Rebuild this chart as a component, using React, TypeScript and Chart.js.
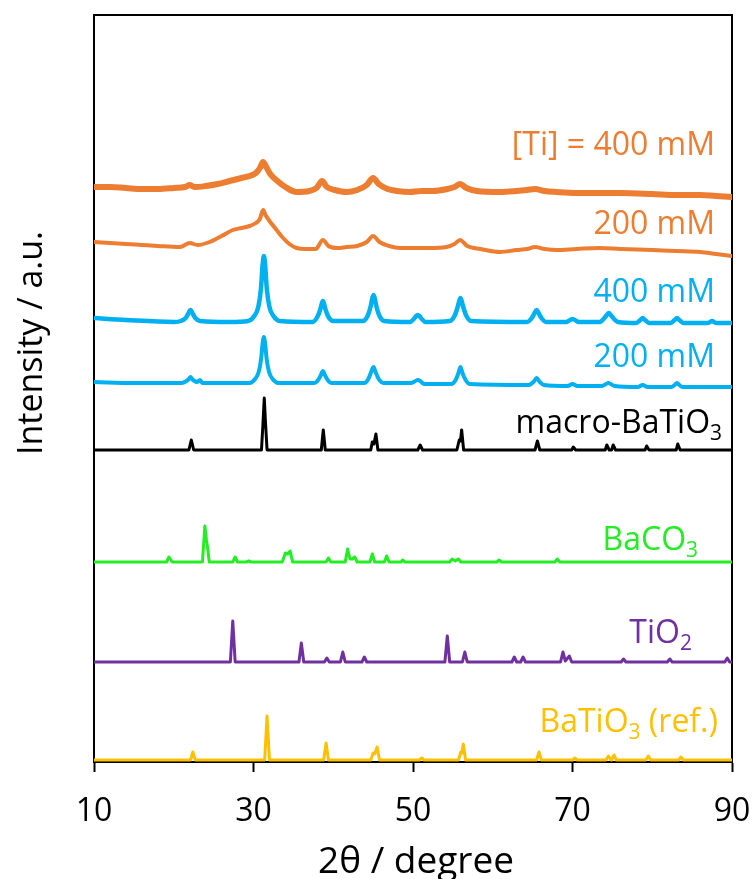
import { useEffect, useRef } from 'react';
import { Chart, registerables } from 'chart.js';

Chart.register(...registerables);

const FONT = '"Open Sans", "DejaVu Sans", sans-serif';

// 2θ axis
const xTicks = [10, 30, 50, 70, 90];
const xTitle = '2θ / degree';
const yTitle = 'Intensity / a.u.';

// series names ("_" marks the following character as a subscript)
const seriesNames = [
  '[Ti] = 400 mM',
  '200 mM',
  '400 mM',
  '200 mM',
  'macro-BaTiO_3',
  'BaCO_3',
  'TiO_2',
  'BaTiO_3 (ref.)',
];

// stacked XRD patterns: [2θ, intensity (offset, a.u.)]
const ti400: number[][] = [
  [10, 575], [12, 575], [14, 574], [16, 573], [18, 573], [20, 574], [21.4, 575], [22, 577], [22.6, 575],
  [24, 576], [25.5, 578], [27, 581], [28.5, 584], [29.5, 586], [30.3, 589], [30.8, 594], [31.2, 600],
  [31.6, 595], [32.1, 588], [33, 581], [34, 575], [35.4, 570], [37, 571], [37.9, 574], [38.6, 581],
  [39.2, 575], [40.2, 572], [41.7, 570], [43, 572], [44.2, 577], [45, 584], [45.7, 578], [46.8, 573],
  [48, 571], [49.6, 570], [51, 571], [52.5, 571], [54.3, 573], [55.2, 575], [55.9, 578], [56.7, 574],
  [58, 571], [60.9, 570], [63, 571], [64.3, 572], [65.3, 573], [66.5, 571], [68, 570], [70.5, 569],
  [73.4, 569], [76, 569], [80, 568], [83, 567], [86, 567], [88, 566], [90, 565],
];

const ti200: number[][] = [
  [10, 520], [12, 519], [14, 518], [16, 517], [18, 516], [20.8, 515], [22, 519], [23, 517], [24.5, 520],
  [26, 526], [27.4, 532], [28.5, 534], [29.5, 536], [30.3, 539], [30.8, 543], [31.2, 552], [31.5, 547],
  [32, 541], [32.8, 533], [33.6, 525], [34.5, 518], [35.4, 514], [36.5, 513], [37.8, 513], [38.7, 522],
  [39.4, 516], [40.5, 514], [41.7, 515], [43, 516], [44.2, 520], [45, 526], [45.8, 520], [47, 516],
  [48.4, 514], [50, 514], [52, 514], [54.2, 515], [55.2, 518], [55.9, 522], [56.8, 516], [58.5, 513],
  [60.9, 510], [63, 512], [64.3, 513], [65.3, 515], [66.5, 513], [68, 512], [70.5, 513], [73.4, 514],
  [76, 513], [80, 512], [83, 511], [86, 510], [88, 508], [90, 506],
];

const bto400: number[][] = [
  [10, 444], [14, 442], [20, 440],
  [20.9, 441], [21.5, 444], [21.8, 448], [22.1, 452], [22.4, 448], [22.7, 444], [23.3, 441],
  [27, 440],
  [29.3, 441], [30.1, 446], [30.6, 455], [30.93, 473], [31.15, 498], [31.3, 506], [31.45, 498],
  [31.67, 473], [32, 455], [32.5, 446], [33.3, 441],
  [37.4, 440], [38, 445], [38.35, 452], [38.55, 458], [38.7, 461], [38.85, 458], [39.05, 452], [39.4, 445], [40, 441],
  [43.7, 441], [44.3, 446], [44.7, 456], [44.9, 464], [45.05, 467], [45.2, 464], [45.4, 456], [45.8, 446], [46.4, 441],
  [49.6, 440], [50.1, 443], [50.4, 446], [50.6, 447], [50.8, 446], [51.1, 443], [51.6, 440],
  [54.6, 441], [55.2, 446], [55.6, 455], [55.8, 461], [55.95, 464], [56.1, 461], [56.3, 455], [56.7, 446], [57.3, 441],
  [64.3, 440], [64.9, 444], [65.25, 449], [65.5, 452], [65.75, 449], [66.1, 444], [66.7, 440],
  [69.2, 440], [69.7, 442], [70, 443], [70.3, 442], [70.8, 440],
  [73.4, 440], [74, 444], [74.3, 447], [74.55, 449], [74.8, 447], [75.1, 444], [75.7, 440],
  [78, 439], [78.5, 442], [78.8, 444], [79.1, 442], [79.6, 439],
  [82.3, 439], [82.8, 442], [83.1, 444], [83.4, 442], [83.9, 439],
  [87, 439], [87.5, 441], [88, 439], [90, 439],
];

const bto200: number[][] = [
  [10, 380], [15, 379],
  [21, 379], [21.6, 381], [21.9, 383], [22.1, 385], [22.3, 383], [22.6, 381], [22.9, 380], [23.3, 382], [23.6, 379],
  [29.5, 379], [30.2, 383], [30.65, 390], [30.95, 403], [31.15, 419], [31.3, 425], [31.45, 419], [31.65, 403],
  [31.95, 390], [32.4, 383], [33.1, 379],
  [37.6, 379], [38.1, 382], [38.45, 387], [38.7, 391], [38.95, 387], [39.3, 382], [39.8, 379],
  [43.9, 379], [44.4, 383], [44.75, 390], [45.05, 395], [45.3, 390], [45.7, 383], [46.3, 379],
  [49.8, 379], [50.3, 381], [50.6, 382], [50.9, 381], [51.4, 378],
  [54.8, 378], [55.35, 382], [55.7, 389], [55.95, 395], [56.2, 389], [56.6, 382], [57.1, 378],
  [64.5, 377], [65.1, 380], [65.5, 384], [65.9, 380], [66.4, 377],
  [69.4, 376], [70, 378], [70.6, 376],
  [73.7, 376], [74.2, 378], [74.5, 379], [74.8, 378], [75.3, 376],
  [78.2, 375], [78.8, 377], [79.4, 375],
  [82.4, 375], [82.8, 377], [83.1, 379], [83.4, 377], [83.8, 375],
  [90, 375],
];

const macroBto: number[][] = [
  [10, 312], [21.9, 312], [22.2, 322], [22.5, 312], [31, 312], [31.2, 340], [31.35, 364], [31.5, 340],
  [31.7, 312], [38.5, 312], [38.75, 332], [39, 312], [44.7, 312], [44.9, 320], [45.1, 318], [45.35, 328],
  [45.6, 312], [50.6, 312], [50.9, 317], [51.2, 312], [55.5, 312], [55.8, 322], [55.95, 321], [56.1, 332],
  [56.35, 312], [65.3, 312], [65.6, 321], [65.9, 312], [69.9, 312], [70.1, 315], [70.4, 312], [74.1, 312],
  [74.3, 317], [74.6, 312], [74.9, 312], [75.1, 317], [75.4, 312], [79.1, 312], [79.3, 316], [79.6, 312],
  [83, 312], [83.2, 318], [83.5, 312], [90, 312],
];

const baco3: number[][] = [
  [10, 200], [19.1, 200], [19.4, 205], [19.8, 200], [23.6, 200], [23.9, 236], [24.1, 222], [24.25, 214],
  [24.45, 200], [27.4, 200], [27.7, 205], [28, 200], [29.1, 200], [29.4, 201], [29.7, 200], [33.6, 200],
  [34, 209], [34.3, 208], [34.6, 211], [34.9, 200], [39.1, 200], [39.4, 204], [39.7, 200], [41.5, 200],
  [41.8, 213], [42.1, 203], [42.4, 203], [42.7, 205], [43, 200], [44.6, 200], [44.9, 208], [45.2, 200],
  [46.4, 200], [46.7, 206], [47, 200], [48.5, 200], [48.7, 202], [49, 200], [54.6, 200], [54.9, 203],
  [55.3, 201], [55.7, 203], [56, 200], [60.5, 200], [60.8, 202], [61.1, 200], [67.8, 200], [68.1, 203],
  [68.4, 200], [90, 200],
];

const tio2: number[][] = [
  [10, 100], [27.1, 100], [27.4, 141], [27.7, 100], [35.7, 100], [36, 119], [36.3, 100], [38.9, 100],
  [39.2, 104], [39.5, 100], [40.9, 100], [41.2, 110], [41.5, 100], [43.6, 100], [43.9, 105], [44.2, 100],
  [54, 100], [54.3, 126], [54.6, 100], [56.2, 100], [56.5, 110], [56.8, 100], [62.4, 100], [62.7, 105],
  [63, 100], [63.5, 100], [63.8, 105], [64.1, 100], [68.5, 100], [68.8, 110], [69.1, 101], [69.6, 106],
  [69.9, 100], [76.1, 100], [76.4, 103], [76.7, 100], [81.9, 100], [82.2, 103], [82.5, 100], [89.1, 100],
  [89.4, 104], [89.7, 100], [90, 100],
];

const btoRef: number[][] = [
  [10, 2], [22.1, 2], [22.4, 10], [22.7, 2], [31.4, 2], [31.7, 46], [32, 2], [38.8, 2], [39.1, 19],
  [39.4, 2], [44.7, 2], [45, 9], [45.2, 8], [45.5, 15], [45.8, 2], [50.8, 2], [51.1, 4], [51.4, 2],
  [55.7, 2], [56, 10], [56.15, 9], [56.3, 18], [56.6, 2], [65.5, 2], [65.8, 10], [66.1, 2], [70, 2],
  [70.3, 4], [70.6, 2], [74.2, 2], [74.5, 6], [74.8, 2], [74.9, 2], [75.2, 7], [75.5, 2], [79.2, 2],
  [79.5, 6], [79.8, 2], [83.3, 2], [83.6, 5], [83.9, 2], [90, 2],
];

const seriesData = [ti400, ti200, bto400, bto200, macroBto, baco3, tio2, btoRef];

// drawing styles per series
const seriesColors = ['#ED7D31', '#ED7D31', '#00B0F0', '#00B0F0', '#000000', '#22EE22', '#7030A0', '#FFC000'];
const seriesWidths = [6, 4, 4.5, 4, 3, 3, 3, 3];
const seriesSmooth = [true, true, true, true, false, false, false, false];

// label anchors: right edge (2θ) and text baseline (intensity)
const labelAnchors = [
  [87.87, 607], [87.87, 528], [87.87, 460], [87.87, 395],
  [88.75, 329], [85.74, 212], [84.98, 119], [88.24, 30],
];

const LABEL_SIZE = 32;
const SUB_SIZE = 21;

function splitLabel(label: string) {
  const parts: { text: string; sub: boolean }[] = [];
  const re = /_(.)/g;
  let last = 0;
  let m: RegExpExecArray | null;
  while ((m = re.exec(label))) {
    if (m.index > last) parts.push({ text: label.slice(last, m.index), sub: false });
    parts.push({ text: m[1], sub: true });
    last = m.index + m[0].length;
  }
  if (last < label.length) parts.push({ text: label.slice(last), sub: false });
  return parts;
}

const framePlugin = {
  id: 'frame',
  beforeDatasetsDraw(chart: any) {
    const { ctx, chartArea } = chart;
    ctx.save();
    ctx.strokeStyle = '#000';
    ctx.lineWidth = 2;
    ctx.beginPath();
    ctx.moveTo(chartArea.left, chartArea.bottom);
    ctx.lineTo(chartArea.left, chartArea.top);
    ctx.lineTo(chartArea.right, chartArea.top);
    ctx.lineTo(chartArea.right, chartArea.bottom);
    ctx.stroke();
    ctx.restore();
  },
};

const textPlugin = {
  id: 'seriesText',
  afterDraw(chart: any) {
    const { ctx, scales, chartArea } = chart;
    const xs = scales.x;
    const ys = scales.y;
    ctx.save();
    ctx.textAlign = 'left';
    ctx.textBaseline = 'alphabetic';
    seriesNames.forEach((name, i) => {
      const parts = splitLabel(name);
      const widths = parts.map((p) => {
        ctx.font = `${p.sub ? SUB_SIZE : LABEL_SIZE}px ${FONT}`;
        return ctx.measureText(p.text).width;
      });
      const total = widths.reduce((a, b) => a + b, 0);
      let x = xs.getPixelForValue(labelAnchors[i][0]) - total;
      const y = ys.getPixelForValue(labelAnchors[i][1]);
      ctx.fillStyle = seriesColors[i];
      parts.forEach((p, k) => {
        ctx.font = `${p.sub ? SUB_SIZE : LABEL_SIZE}px ${FONT}`;
        ctx.fillText(p.text, x, p.sub ? y + 7 : y);
        x += widths[k];
      });
    });

    // axis titles
    ctx.fillStyle = '#000';
    ctx.textAlign = 'center';
    ctx.font = `37px ${FONT}`;
    ctx.fillText(xTitle, (chartArea.left + chartArea.right) / 2 + 3, 873);
    ctx.save();
    ctx.translate(42, 343);
    ctx.rotate(-Math.PI / 2);
    ctx.font = `34px ${FONT}`;
    ctx.fillText(yTitle, 0, 0);
    ctx.restore();
    ctx.restore();
  },
};

export default function App() {
  const canvasRef = useRef<HTMLCanvasElement | null>(null);

  useEffect(() => {
    const canvas = canvasRef.current;
    if (!canvas) return;
    const chart = new Chart(canvas, {
      type: 'line',
      data: {
        datasets: seriesData.map((pts, i) => ({
          label: seriesNames[i],
          data: pts.map(([x, y]) => ({ x, y })),
          borderColor: seriesColors[i],
          borderWidth: seriesWidths[i],
          pointRadius: 0,
          fill: false,
          cubicInterpolationMode: seriesSmooth[i] ? 'monotone' : 'default',
          tension: 0,
          borderJoinStyle: 'round',
          borderCapStyle: 'round',
        })),
      },
      options: {
        animation: false,
        responsive: false,
        events: [],
        layout: { padding: { left: 0, top: 15, right: 21, bottom: 0 } },
        plugins: {
          legend: { display: false },
          tooltip: { enabled: false },
        },
        scales: {
          x: {
            type: 'linear',
            min: 10,
            max: 90,
            afterBuildTicks: (scale: any) => {
              scale.ticks = xTicks.map((v) => ({ value: v }));
            },
            afterFit: (scale: any) => {
              scale.height = 879 - 762;
              scale.paddingLeft = 0;
              scale.paddingRight = 0;
            },
            ticks: {
              color: '#000',
              font: { family: FONT, size: 32 },
              padding: 21,
              maxRotation: 0,
              autoSkip: false,
            },
            grid: {
              drawOnChartArea: false,
              drawTicks: true,
              tickLength: 10,
              tickColor: '#000',
              tickWidth: 2,
            },
            border: { display: true, color: '#000', width: 2 },
          },
          y: {
            type: 'linear',
            min: 0,
            max: 747,
            afterFit: (scale: any) => {
              scale.width = 94;
              scale.paddingTop = 0;
              scale.paddingBottom = 0;
            },
            ticks: { display: false },
            grid: { display: false },
            border: { display: true, color: '#000', width: 2 },
          },
        },
      },
      plugins: [framePlugin, textPlugin],
    } as any);
    return () => chart.destroy();
  }, []);

  return (
    <div style={{ position: 'absolute', left: 0, top: 0, width: 753, height: 879, background: '#fff' }}>
      <canvas ref={canvasRef} width={753} height={879} style={{ display: 'block' }} />
    </div>
  );
}
